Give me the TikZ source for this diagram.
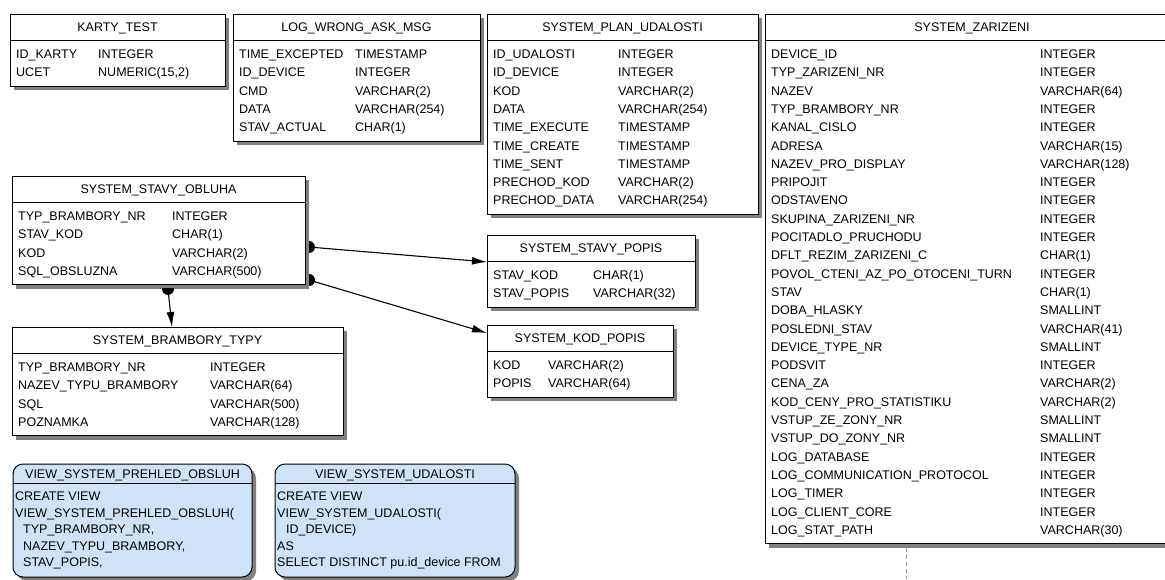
\documentclass[tikz,border=0pt]{standalone}
\usepackage{fontspec}
\setmainfont{Liberation Sans}
\usetikzlibrary{arrows.meta,calc}
\definecolor{viewblue}{RGB}{206,227,247}
\definecolor{shadowgray}{RGB}{128,128,128}
\tikzset{
  tbl/.style={draw=black, line width=1pt, fill=white, inner sep=0pt, outer sep=0pt, anchor=north west},
  viewbox/.style={tbl, fill=viewblue, rounded corners=10pt},
  shadowfill/.style={fill=shadowgray},
  txt/.style={font=\fontsize{12.5}{15}\selectfont, inner sep=0pt, text height=9pt, text depth=0pt, text=black},
  hline/.style={draw=black, line width=0.9pt},
  conn/.style={draw=black, line width=1.1pt, -{Latex[length=15pt,width=8pt]}},
  dashconn/.style={draw=black!40, line width=1pt, dash pattern=on 4pt off 3pt},
}
% name, x1, top, x2, nrows, col2x, title, rows
\newcommand{\dbtable}[8]{%
  \pgfmathsetmacro{\dbbot}{#3+54+18.3*(#5-1)}%
  \fill[shadowfill] (#2+4,#3+4) rectangle (#4+4,\dbbot+4);
  \node[tbl, minimum width={(#4-#2)*1pt}, minimum height={(\dbbot-#3)*1pt}] (#1) at (#2,#3) {};
  \draw[hline] (#2,#3+26) -- (#4,#3+26);
  \node[txt] (#1-title) at ({(#2+#4)/2},#3+13) {#7};
  \foreach \ca/\cb [count=\ci from 0] in {#8} {
    \node[txt, anchor=west] at (#2+6,#3+40+18.3*\ci) {\ca};
    \node[txt, anchor=west] at (#6,#3+40+18.3*\ci) {\cb};
  }%
}
% name, x1, x2, title, lines
\newcommand{\dbview}[5]{%
  \fill[shadowfill, rounded corners=10pt] (#2+4,468) rectangle (#3+4,581);
  \node[viewbox, minimum width={(#3-#2)*1pt}, minimum height=113pt] (#1) at (#2,464) {};
  \draw[hline] (#2,483) -- (#3,483);
  \node[txt] (#1-title) at ({(#2+#3)/2},473.5) {#4};
  \foreach \cl [count=\ci from 0] in {#5} {
    \node[txt, anchor=west] at (#2+2,496+16.6*\ci) {\cl};
  }%
}
\begin{document}
\begin{tikzpicture}[x=1pt,y=-1pt]
\useasboundingbox (0,0) rectangle (1165,579);
\fill[white] (0,0) rectangle (1165,579);
\clip (0,0) rectangle (1165,579);

\dbtable{karty}{10}{14}{225}{2}{98}{KARTY\_TEST}
  {ID\_KARTY/INTEGER, UCET/{NUMERIC(15,2)}}

\dbtable{logwrong}{233}{14}{480}{5}{355}{LOG\_WRONG\_ASK\_MSG}
  {TIME\_EXCEPTED/TIMESTAMP, ID\_DEVICE/INTEGER, CMD/VARCHAR(2), DATA/VARCHAR(254), STAV\_ACTUAL/CHAR(1)}

\dbtable{plan}{487}{14}{758}{9}{618}{SYSTEM\_PLAN\_UDALOSTI}
  {ID\_UDALOSTI/INTEGER, ID\_DEVICE/INTEGER, KOD/VARCHAR(2), DATA/VARCHAR(254), TIME\_EXECUTE/TIMESTAMP,
   TIME\_CREATE/TIMESTAMP, TIME\_SENT/TIMESTAMP, PRECHOD\_KOD/VARCHAR(2), PRECHOD\_DATA/VARCHAR(254)}

\dbtable{zarizeni}{765}{14}{1179}{27}{1040}{SYSTEM\_ZARIZENI}
  {DEVICE\_ID/INTEGER, TYP\_ZARIZENI\_NR/INTEGER, NAZEV/VARCHAR(64), TYP\_BRAMBORY\_NR/INTEGER,
   KANAL\_CISLO/INTEGER, ADRESA/VARCHAR(15), NAZEV\_PRO\_DISPLAY/VARCHAR(128), PRIPOJIT/INTEGER,
   ODSTAVENO/INTEGER, SKUPINA\_ZARIZENI\_NR/INTEGER, POCITADLO\_PRUCHODU/INTEGER,
   DFLT\_REZIM\_ZARIZENI\_C/CHAR(1), POVOL\_CTENI\_AZ\_PO\_OTOCENI\_TURN/INTEGER, STAV/CHAR(1),
   DOBA\_HLASKY/SMALLINT, POSLEDNI\_STAV/VARCHAR(41), DEVICE\_TYPE\_NR/SMALLINT, PODSVIT/INTEGER,
   CENA\_ZA/VARCHAR(2), KOD\_CENY\_PRO\_STATISTIKU/VARCHAR(2), VSTUP\_ZE\_ZONY\_NR/SMALLINT,
   VSTUP\_DO\_ZONY\_NR/SMALLINT, LOG\_DATABASE/INTEGER, LOG\_COMMUNICATION\_PROTOCOL/INTEGER,
   LOG\_TIMER/INTEGER, LOG\_CLIENT\_CORE/INTEGER, LOG\_STAT\_PATH/VARCHAR(30)}

\dbtable{obluha}{12}{176}{305}{4}{172}{SYSTEM\_STAVY\_OBLUHA}
  {TYP\_BRAMBORY\_NR/INTEGER, STAV\_KOD/CHAR(1), KOD/VARCHAR(2), SQL\_OBSLUZNA/VARCHAR(500)}

\dbtable{brambory}{12}{327}{343}{4}{210}{SYSTEM\_BRAMBORY\_TYPY}
  {TYP\_BRAMBORY\_NR/INTEGER, NAZEV\_TYPU\_BRAMBORY/VARCHAR(64), SQL/VARCHAR(500), POZNAMKA/VARCHAR(128)}

\dbtable{stavypopis}{487}{235}{695}{2}{593}{SYSTEM\_STAVY\_POPIS}
  {STAV\_KOD/CHAR(1), STAV\_POPIS/VARCHAR(32)}

\dbtable{kodpopis}{487}{325}{673}{2}{548}{SYSTEM\_KOD\_POPIS}
  {KOD/VARCHAR(2), POPIS/VARCHAR(64)}

\dbview{viewobsluh}{13}{252}{VIEW\_SYSTEM\_PREHLED\_OBSLUH}
  {CREATE VIEW, VIEW\_SYSTEM\_PREHLED\_OBSLUH(, {\hspace*{8pt}TYP\_BRAMBORY\_NR,},
   {\hspace*{8pt}NAZEV\_TYPU\_BRAMBORY,}, {\hspace*{8pt}STAV\_POPIS,}}

\dbview{viewudalosti}{275}{515}{VIEW\_SYSTEM\_UDALOSTI}
  {CREATE VIEW, VIEW\_SYSTEM\_UDALOSTI(, {\hspace*{9pt}ID\_DEVICE)}, AS, SELECT DISTINCT pu.id\_device FROM}

% connectors
\coordinate (o1) at ($(obluha.north east)+(4,71)$);
\coordinate (e1) at ($(stavypopis.north west)+(0,27)$);
\coordinate (o2) at ($(obluha.north east)+(4,104)$);
\coordinate (e2) at ($(kodpopis.north west)+(0,8)$);
\coordinate (o3) at ($(obluha.south west)+(156,4)$);
\coordinate (e3) at ($(brambory.north west)+(160,0)$);
\coordinate (d1) at ($(zarizeni.south west)+(141,4)$);
\coordinate (d2) at (906,579);

\draw[conn] (o1) -- (e1);
\draw[conn] (o2) -- (e2);
\draw[conn] (o3) -- (e3);
\draw[dashconn] (d1) -- (d2);

\foreach \p in {o1,o2} {
  \begin{scope}
    \clip ($(\p)+(0,-8)$) rectangle ($(\p)+(8,8)$);
    \fill[black] (\p) circle[radius=6];
  \end{scope}
}
\begin{scope}
  \clip ($(o3)+(-8,0)$) rectangle ($(o3)+(8,8)$);
  \fill[black] (o3) circle[radius=6];
\end{scope}
\end{tikzpicture}
\end{document}
